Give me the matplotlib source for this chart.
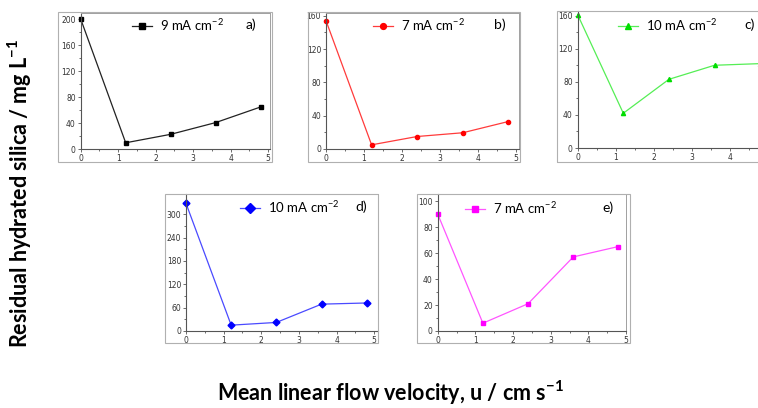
import matplotlib
matplotlib.use("Agg")
import matplotlib.pyplot as plt
from matplotlib.patches import Rectangle
from matplotlib.ticker import MultipleLocator

plt.rcParams['font.family'] = ['Lato', 'DejaVu Sans']
plt.rcParams['mathtext.fontset'] = 'custom'
plt.rcParams['mathtext.rm'] = 'Lato'
plt.rcParams['mathtext.bf'] = 'Lato:bold'

# donnees
velocity = [0, 1.2, 2.4, 3.6, 4.8]
silica_a = [200, 10, 23, 41, 65]
silica_b = [154, 5, 15, 19.5, 33]
silica_c = [161, 42, 83, 100, 102]
silica_d = [328, 15, 22, 69, 72]
silica_e = [90, 6, 21, 57, 65]

labels = ['9 mA cm$^{-2}$', '7 mA cm$^{-2}$', '10 mA cm$^{-2}$',
          '10 mA cm$^{-2}$', '7 mA cm$^{-2}$']
letters = ['a)', 'b)', 'c)', 'd)', 'e)']
series = [silica_a, silica_b, silica_c, silica_d, silica_e]

W, H = 758, 408
fig = plt.figure(figsize=(W / 100, H / 100), dpi=100)


def box(l, t, r, b):
    return [l / W, 1 - b / H, (r - l) / W, (b - t) / H]


# mise en page (pixels) : axes, cadre, limites, legende
panels = [
    dict(ax=(80.7, 12.7, 270, 149.3), frame=(58, 12.5, 271.5, 162), xmax=5.05, ymax=209.7,
         xlast=5, ystep=40, line='#222222', mk='#000000', marker='s', leg=(132, 25), let=(251, 25)),
    dict(ax=(326, 12.7, 519, 149), frame=(308, 12.5, 520, 162), xmax=5.08, ymax=163.6,
         xlast=5, ystep=40, line='#ff3b3b', mk='#ff0000', marker='o', leg=(373, 25), let=(500, 25)),
    dict(ax=(577.7, 11, 769.6, 148), frame=(557, 11, 762, 162), xmax=5.05, ymax=165.6,
         xlast=4, ystep=40, line='#55ee55', mk='#00dd00', marker='^', leg=(618, 25), let=(750, 25)),
    dict(ax=(186, 194, 378, 331), frame=(165, 194, 378, 343), xmax=5.1, ymax=352,
         xlast=5, ystep=60, line='#4a4aff', mk='#0000ff', marker='D', leg=(240, 207), let=(361, 207)),
    dict(ax=(437.7, 194, 626, 331), frame=(417, 194, 629.5, 343), xmax=5.0, ymax=105.4,
         xlast=5, ystep=20, line='#ff55ff', mk='#ff00ff', marker='s', leg=(465, 208), let=(608, 208)),
]

for p, y, lab, let in zip(panels, series, labels, letters):
    fl, ft, fr, fb = p['frame']
    fig.patches.append(Rectangle((fl / W, 1 - fb / H), (fr - fl) / W, (fb - ft) / H,
                                 transform=fig.transFigure, fill=False,
                                 edgecolor='#b0b0b0', linewidth=0.8))
    ax = fig.add_axes(box(*p['ax']))
    ax.patch.set_alpha(0)
    ms = 3.5 if p['marker'] == 'D' else 3
    ax.plot(velocity, y, color=p['line'], linewidth=0.9, marker=p['marker'],
            markersize=ms, markerfacecolor=p['mk'], markeredgecolor=p['mk'],
            label=lab, clip_on=False)
    ax.set_xlim(0, p['xmax'])
    ax.set_ylim(0, p['ymax'])
    ax.set_xticks(range(0, p['xlast'] + 1))
    ax.xaxis.set_minor_locator(MultipleLocator(0.5))
    ax.yaxis.set_major_locator(MultipleLocator(p['ystep']))
    ax.yaxis.set_minor_locator(MultipleLocator(p['ystep'] / 2))
    ax.tick_params(which='both', direction='out', colors='#555555', width=0.6,
                   labelsize=5.5, pad=1, labelcolor='#333333', labelfontfamily='DejaVu Sans')
    ax.tick_params(which='major', length=2.5)
    ax.tick_params(which='minor', length=1.5)
    for s in ['left', 'bottom']:
        ax.spines[s].set_color('#555555')
        ax.spines[s].set_linewidth(0.8)
    for s in ['top', 'right']:
        ax.spines[s].set_color('#a0a0a0')
        ax.spines[s].set_linewidth(0.7)

    l, t, r, b = p['ax']
    lx, ly = p['leg']
    ax.legend(loc='center left', bbox_to_anchor=((lx - l) / (r - l), (b - ly) / (b - t)),
              frameon=False, fontsize=9.5, handlelength=1.5, handletextpad=0.6,
              borderpad=0, borderaxespad=0, markerscale=1.4)
    cx, cy = p['let']
    ax.text((cx - l) / (r - l), (b - cy) / (b - t), let, transform=ax.transAxes,
            ha='center', va='center', fontsize=10)

fig.text(20 / W, 1 - 193 / H, 'Residual hydrated silica / mg L$\\mathbf{^{-1}}$',
         rotation=90, ha='center', va='center', fontsize=15.5, fontweight='bold')
fig.text(390 / W, 1 - 393 / H, 'Mean linear flow velocity, u / cm s$\\mathbf{^{-1}}$',
         ha='center', va='center', fontsize=15.5, fontweight='bold')

fig.savefig('out.png', dpi=100)
